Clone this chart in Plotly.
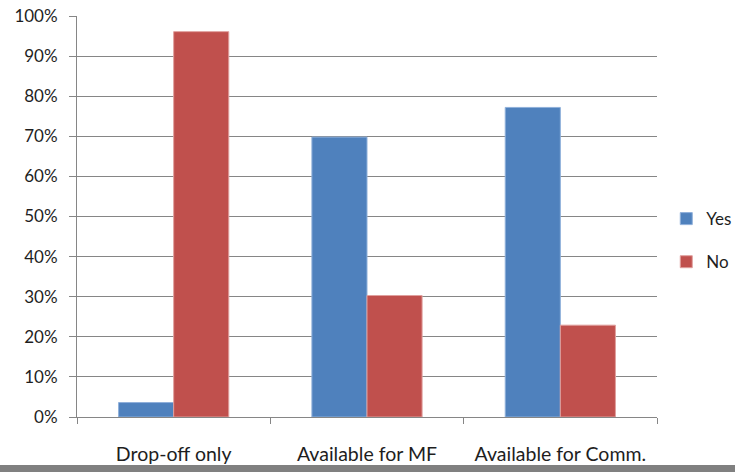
import plotly.graph_objects as go

categories = ["Drop-off only", "Available for MF", "Available for Comm."]
yes_values = [3.6, 69.8, 77.2]
no_values = [96.1, 30.3, 22.9]
y_ticks = list(range(0, 101, 10))
y_tick_labels = [f"{v}%" for v in y_ticks]

FONT = "Lato, Liberation Sans, Arial, sans-serif"
AX = "#868686"

fig = go.Figure()
fig.add_trace(go.Bar(name="Yes", x=categories, y=yes_values,
                     marker=dict(color="#4F81BD", line=dict(color="#8FB0DA", width=1)),
                     legendgroup="a"))
fig.add_trace(go.Bar(name="No", x=categories, y=no_values,
                     marker=dict(color="#C0504D", line=dict(color="#E0A09E", width=1)),
                     legendgroup="b"))

fig.update_layout(
    width=735, height=472,
    margin=dict(l=77, r=78, t=16, b=55, autoexpand=False),
    paper_bgcolor="white", plot_bgcolor="white",
    barmode="group", bargap=0.43, bargroupgap=0,
    font=dict(family=FONT, size=17, color="#1e1e1e"),
    legend=dict(x=1.016, y=0.44, xanchor="left", yanchor="middle",
                traceorder="grouped", tracegroupgap=18,
                font=dict(size=17), itemwidth=30, bgcolor="rgba(0,0,0,0)"),
    shapes=[dict(type="rect", xref="paper", yref="paper",
                 x0=-0.2, x1=1.3, y0=-0.145, y1=-0.12,
                 fillcolor="#808080", line=dict(width=0), layer="above")],
)
fig.update_xaxes(showline=True, linecolor=AX, linewidth=1, ticks="outside",
                 tickson="boundaries", ticklen=6, tickcolor=AX,
                 tickfont=dict(size=19.5),
                 showgrid=False, ticklabelstandoff=20, automargin=False)
fig.update_yaxes(range=[0, 100], tickvals=y_ticks, ticktext=y_tick_labels,
                 showgrid=True, gridcolor=AX, gridwidth=1,
                 showline=True, linecolor=AX, linewidth=1, ticks="outside",
                 ticklen=7, tickcolor=AX, zeroline=False, ticklabelstandoff=8,
                 automargin=False)

fig.write_html("out.html", config={"displayModeBar": False},
               post_script="document.body.style.margin='0';document.body.style.overflow='hidden';")
